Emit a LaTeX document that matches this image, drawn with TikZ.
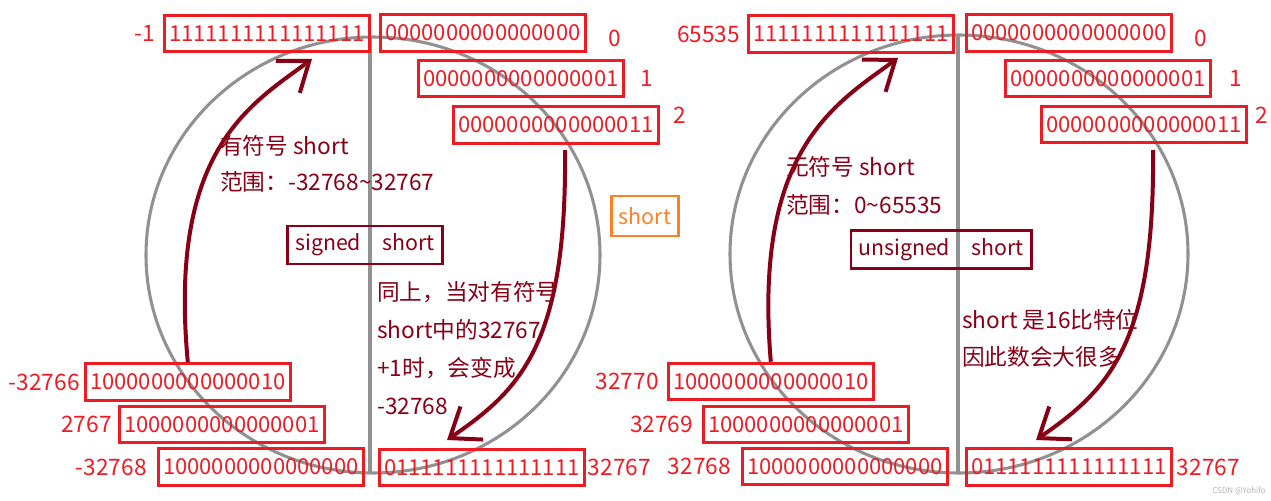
\documentclass[tikz,border=0pt]{standalone}
\usepackage{fontspec}
\usetikzlibrary{positioning,arrows.meta}
\newfontfamily\cjk{Noto Sans CJK SC}
\definecolor{paintred}{RGB}{237,28,36}
\definecolor{paintdark}{RGB}{136,0,21}
\definecolor{paintgray}{RGB}{145,145,145}
\definecolor{paintorange}{RGB}{255,127,39}

\begin{document}
\begin{tikzpicture}[x=0.75pt,y=-0.75pt,
  every node/.style={font=\cjk\fontsize{16}{28.5}\selectfont},
  bits/.style={draw=paintred,line width=2.2pt,text=paintred,font=\cjk\fontsize{16.5}{20}\selectfont,inner xsep=3.5pt,inner ysep=0pt,minimum height=27.5pt,anchor=west},
  num/.style={text=paintred,font=\cjk\fontsize{17}{20}\selectfont,inner sep=0pt},
  kind/.style={draw=paintdark,line width=2.2pt,text=paintdark,inner xsep=5.5pt,inner ysep=0pt,minimum height=28.5pt},
  note/.style={text=paintdark,align=left,inner sep=0pt,anchor=north west},
  ring/.style={draw=paintgray,line width=2.3pt},
  wrap/.style={draw=paintdark,line width=3pt,-{Straight Barb[length=20pt,width=30pt]}}]
  \useasboundingbox (0,0) rectangle (1271,500);

  \draw[ring] (373,255) ellipse [x radius=227,y radius=218];
  \draw[ring] (370,37) -- (370,473);
  \draw[ring] (959,254) ellipse [x radius=229,y radius=219];
  \draw[ring] (958,35) -- (958,473);

  % signed short
  \node[bits] (a1) at (163,33.5) {1111111111111111};
  \node[bits] (a0) at (379,33) {0000000000000000};
  \node[bits] (p1) at (417,78.5) {0000000000000001};
  \node[bits] (p2) at (452,125) {0000000000000011};
  \node[bits] (n2) at (84,382) {1000000000000010};
  \node[bits] (n1) at (118,424.5) {1000000000000001};
  \node[bits] (n0) at (157,467) {1000000000000000};
  \node[bits] (mx) at (378,467.5) {0111111111111111};
  \node[num,left=6pt of a1] (la1) {-1};
  \node[num,right=16pt of a0,yshift=-4pt] (la0) {0};
  \node[num,right=12pt of p1] (lp1) {1};
  \node[num,right=10pt of p2,yshift=7pt] (lp2) {2};
  \node[num,left=3pt of n2] (ln2) {-32766};
  \node[num,left=4.5pt of n1] (ln1) {2767};
  \node[num,left=7.5pt of n0] (ln0) {-32768};
  \node[num,right=1.5pt of mx] (lmx) {32767};

  \node[kind] (sg) at (365,245) {signed\quad short};
  \node[note,font=\cjk\fontsize{17}{27}\selectfont] (sn) at (220,135) {有符号 short\\范围：-32768\textasciitilde32767};
  \node[note,font=\cjk\fontsize{17}{28.5}\selectfont] (so) at (377,281) {同上，当对有符号\\short中的32767\\+1时，会变成\\-32768};

  \coordinate (t1) at (312,59);
  \coordinate (s2) at (565,150);
  \coordinate (t2) at (447,440);
  \draw[wrap] (n2.north) .. controls (168,150) and (250,105) .. (t1);
  \draw[wrap] (s2) .. controls (567,345) and (520,390) .. (t2);

  \node[draw=paintorange,line width=2.2pt,text=paintorange,inner xsep=5.5pt,inner ysep=0pt,minimum height=30pt] (sh) at (645,216) {short};

  % unsigned short
  \node[bits] (b1) at (747,34) {1111111111111111};
  \node[bits] (b0) at (965,33) {0000000000000000};
  \node[bits] (q1) at (1004,78.5) {0000000000000001};
  \node[bits] (q2) at (1040,124.5) {0000000000000011};
  \node[bits] (m2) at (667,381.5) {1000000000000010};
  \node[bits] (m1) at (702,424.5) {1000000000000001};
  \node[bits] (m0) at (741,466.5) {1000000000000000};
  \node[bits] (my) at (965,467) {0111111111111111};
  \node[num,left=5pt of b1] (lb1) {65535};
  \node[num,right=16pt of b0,yshift=-4pt] (lb0) {0};
  \node[num,right=13pt of q1] (lq1) {1};
  \node[num,right=6pt of q2,yshift=7pt] (lq2) {2};
  \node[num,left=6pt of m2] (lm2) {32770};
  \node[num,left=6.5pt of m1] (lm1) {32769};
  \node[num,left=7.5pt of m0] (lm0) {32768};
  \node[num,right=3pt of my] (lmy) {32767};

  \node[kind] (us) at (941,249.5) {unsigned\quad short};
  \node[note,font=\cjk\fontsize{17}{28.5}\selectfont] (un) at (786,156) {无符号 short\\范围：0\textasciitilde65535};
  \node[note,font=\cjk\fontsize{17}{28}\selectfont] (uo) at (962,309) {short 是16比特位\\因此数会大很多};

  \coordinate (t3) at (898,58);
  \coordinate (s4) at (1153,150);
  \coordinate (t4) at (1036,440);
  \draw[wrap] (m2.north) .. controls (753,150) and (835,104) .. (t3);
  \draw[wrap] (s4) .. controls (1155,345) and (1108,390) .. (t4);
    %\draw[ring] (sg) -- (us);

  \node[text=paintgray!70,font=\cjk\fontsize{6}{7}\selectfont,anchor=east,inner sep=0pt] (wm) at (1266,491) {CSDN @Yohifo};
\end{tikzpicture}
\end{document}
